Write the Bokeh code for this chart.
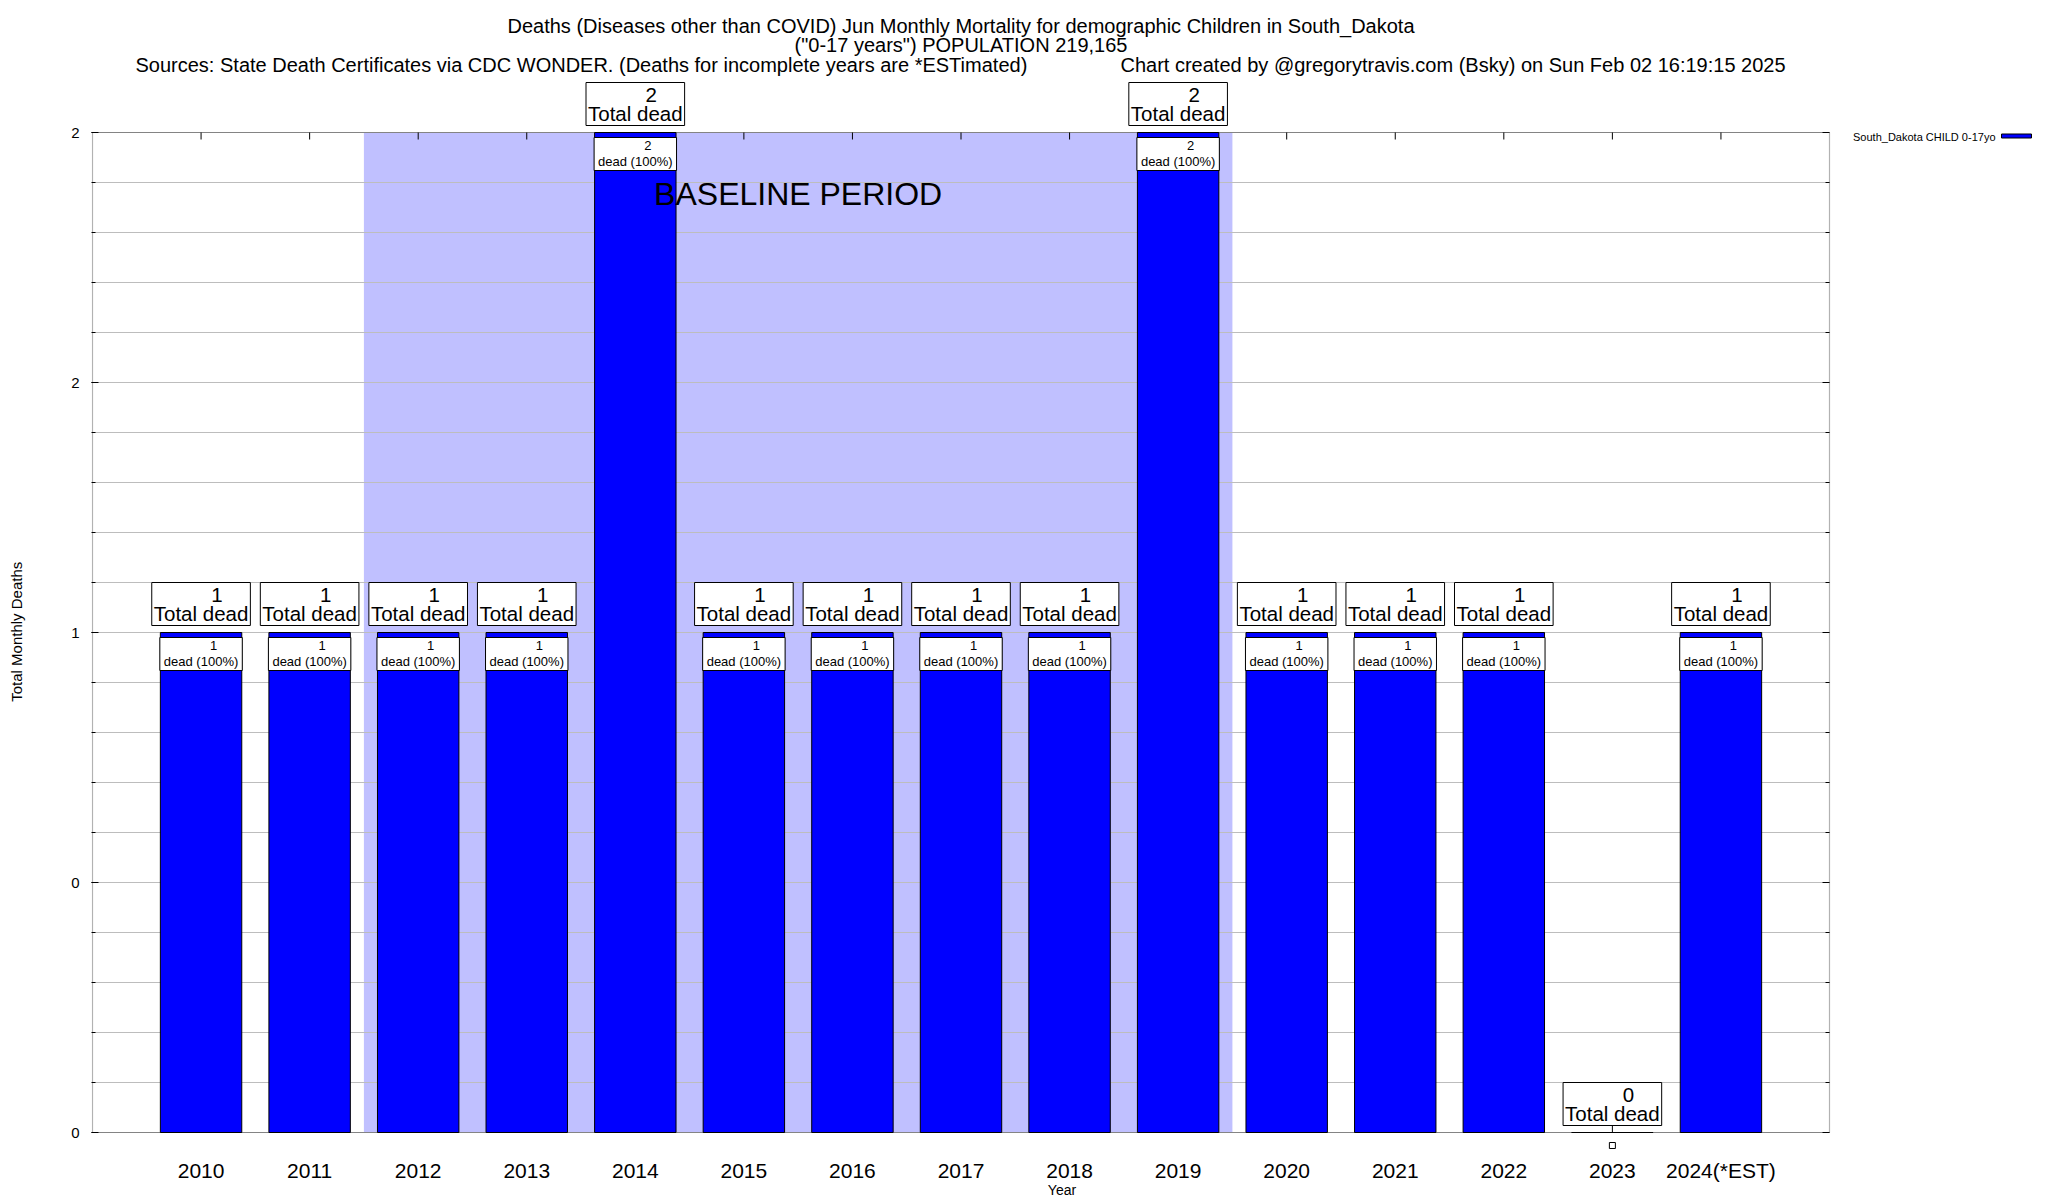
import math
from bokeh.plotting import figure
from bokeh.models import Range1d, FixedTicker, Label, BoxAnnotation, ColumnDataSource
from bokeh.embed import file_html
from bokeh.resources import INLINE

# ---------------- data ----------------
years = ["2010", "2011", "2012", "2013", "2014", "2015", "2016", "2017",
         "2018", "2019", "2020", "2021", "2022", "2023", "2024(*EST)"]
deaths = [1, 1, 1, 1, 2, 1, 1, 1, 1, 2, 1, 1, 1, 0, 1]
share_pct = [100, 100, 100, 100, 100, 100, 100, 100, 100, 100, 100, 100, 100, 0, 100]
baseline_first, baseline_last = "2012", "2019"
y_tick_values = [0, 0.5, 1, 1.5, 2]
y_tick_labels = ["0", "0", "1", "2", "2"]
series_name = "South_Dakota CHILD 0-17yo"
y_title = "Total Monthly Deaths"
x_title = "Year"
title_1 = "Deaths (Diseases other than COVID) Jun Monthly Mortality for demographic Children in South_Dakota"
title_2 = '("0-17 years") POPULATION 219,165'
title_3a = "Sources: State Death Certificates via CDC WONDER. (Deaths for incomplete years are *ESTimated)"
title_3b = "Chart created by @gregorytravis.com (Bsky) on Sun Feb 02 16:19:15 2025"

FONT = "Liberation Sans"
BLACK = "black"
n = len(years)
idx = list(range(n))
x_lo, x_hi = -1, n            # plot box in data units
y_lo, y_hi = 0, 2
PX_X = 1737 / (x_hi - x_lo)   # px per x unit
PX_Y = 1000 / (y_hi - y_lo)   # px per y unit

# frame extends past the plot box (top & right) so outside texts are not clipped
fr_left, fr_right, fr_top, fr_bottom = 91, 2032, 0, 1150
box_left, box_top, box_bottom = 92, 132, 1132
xr = Range1d(x_lo - (box_left - fr_left) / PX_X, x_lo + (fr_right - box_left) / PX_X)
yr = Range1d(y_lo - (fr_bottom - box_bottom) / PX_Y, y_lo + (box_bottom - fr_top) / PX_Y)

p = figure(frame_width=fr_right - fr_left, frame_height=fr_bottom - fr_top,
           x_range=xr, y_range=yr, output_backend="svg", toolbar_location=None,
           min_border_left=fr_left, min_border_right=0, min_border_top=0,
           min_border_bottom=42)
p.background_fill_color = "white"
p.border_fill_color = "white"
p.outline_line_color = None

# baseline shading
b0 = years.index(baseline_first) - 0.5
b1 = years.index(baseline_last) + 0.5
p.add_layout(BoxAnnotation(left=b0, right=b1, bottom=y_lo, top=y_hi, fill_color="#c0c0ff",
                           fill_alpha=1.0, line_color=None, level="image"))

# horizontal grid, limited to the plot box
grid_ticks = [round(i * 0.1, 1) for i in range(21)]
p.xgrid.visible = False
p.ygrid.visible = False
p.segment(x0=[x_lo] * len(grid_ticks), x1=[x_hi] * len(grid_ticks), y0=grid_ticks,
          y1=grid_ticks, line_color="#bdbdbd", line_width=1, level="underlay")

# mirror / inward ticks
minor_only = [t for t in grid_ticks if t not in y_tick_values]
p.ray(x=idx, y=[y_lo] * n, length=7, length_units="screen", angle=math.pi / 2,
      line_color=BLACK, line_width=1, level="underlay")
p.ray(x=idx, y=[y_hi] * n, length=7, length_units="screen", angle=-math.pi / 2,
      line_color=BLACK, line_width=1, level="underlay")
p.ray(x=[x_hi] * len(y_tick_values), y=y_tick_values, length=7, length_units="screen",
      angle=math.pi, line_color=BLACK, line_width=1, level="underlay")
p.ray(x=[x_hi] * len(minor_only), y=minor_only, length=4, length_units="screen",
      angle=math.pi, line_color=BLACK, line_width=1, level="underlay")

# bars
src = ColumnDataSource(dict(x=idx, top=deaths, year=years))
p.vbar(x="x", top="top", width=0.75, source=src, fill_color="#0000ff",
       line_color=BLACK, line_width=1)

# plot box border
p.add_layout(BoxAnnotation(left=x_lo, right=x_hi, bottom=y_lo, top=y_hi, fill_alpha=0,
                           fill_color=None, line_color=BLACK, line_width=1.2))

# axes
ax = p.xaxis[0]
ax.bounds = (x_lo, x_hi)
ax.ticker = FixedTicker(ticks=idx)
ax.major_label_overrides = {i: y for i, y in zip(idx, years)}
ax.major_tick_line_color = None
ax.minor_tick_line_color = None
ax.axis_line_color = None
ax.major_label_text_font = FONT
ax.major_label_text_font_size = "21px"
ax.major_label_text_color = BLACK
ax.major_label_standoff = 2
ax.axis_label = x_title
ax.axis_label_text_font = FONT
ax.axis_label_text_font_size = "14px"
ax.axis_label_text_font_style = "normal"
ax.axis_label_text_color = BLACK
ax.axis_label_standoff = -3

ay = p.yaxis[0]
ay.bounds = (y_lo, y_hi)
ay.ticker = FixedTicker(ticks=y_tick_values, minor_ticks=grid_ticks)
ay.major_label_overrides = {v: l for v, l in zip(y_tick_values, y_tick_labels)}
ay.major_tick_in = 7
ay.major_tick_out = 0
ay.minor_tick_in = 4
ay.minor_tick_out = 0
ay.axis_line_color = None
ay.major_label_text_font = FONT
ay.major_label_text_font_size = "15px"
ay.major_label_text_color = BLACK
ay.major_label_standoff = 12
# the frame reaches above the plot box; trailing no-break spaces re-centre the
# title on the plot box itself
ay.axis_label = y_title + "\u00a0" * 27
ay.axis_label_text_font = FONT
ay.axis_label_text_font_size = "15px"
ay.axis_label_text_font_style = "normal"
ay.axis_label_text_color = BLACK
ay.axis_label_standoff = 43

# value labels: a boxed "Total dead" above each bar, a boxed share inside each bar
zero_x, zero_y = [], []
for i, (v, pc) in enumerate(zip(deaths, share_pct)):
    p.add_layout(Label(x=i, y=v, y_offset=7, text="Total dead",
                       text_align="center", text_baseline="bottom", text_color=BLACK,
                       text_font=FONT, text_font_size="20.5px",
                       background_fill_color="white", border_line_color=BLACK,
                       border_line_width=1,
                       padding=dict(top=19, bottom=1, left=2, right=2)))
    p.add_layout(Label(x=i, y=v, x_offset=16, y_offset=38, text="%d" % v,
                       text_align="center", text_baseline="middle", text_color=BLACK,
                       text_font=FONT, text_font_size="20.5px"))
    if v > 0:
        p.add_layout(Label(x=i, y=v, y_offset=-5, text="dead (%d%%)" % pc,
                           text_align="center", text_baseline="top", text_color=BLACK,
                           text_font=FONT, text_font_size="13px",
                           background_fill_color="white", border_line_color=BLACK,
                           border_line_width=1,
                           padding=dict(top=16, bottom=2, left=4, right=4)))
        p.add_layout(Label(x=i, y=v, x_offset=12.5, y_offset=-12.5, text="%d" % v,
                           text_align="center", text_baseline="middle", text_color=BLACK,
                           text_font=FONT, text_font_size="13px"))
    else:
        zero_x.append(i)
        zero_y.append(v - 13 / PX_Y)
p.scatter(x=zero_x, y=zero_y, marker="square", size=6, fill_color="white",
          line_color=BLACK, line_width=1)

# baseline caption
p.add_layout(Label(x=(b0 + b1) / 2, y=y_hi, y_offset=-61, text="BASELINE PERIOD",
                   text_align="center", text_baseline="middle", text_color=BLACK,
                   text_font=FONT, text_font_size="32px"))

# titles
mid = (x_lo + x_hi) / 2
for txt, xo, yo, al, xx in [(title_1, 0, 107, "center", mid),
                            (title_2, 0, 88, "center", mid),
                            (title_3a, 43, 68, "left", x_lo),
                            (title_3b, 1028, 68, "left", x_lo)]:
    p.add_layout(Label(x=xx, y=y_hi, x_offset=xo, y_offset=yo, text=txt, text_align=al,
                       text_baseline="middle", text_font=FONT, text_font_size="20px",
                       text_color=BLACK))

# legend (outside the plot box, right)
p.add_layout(Label(x=x_hi, y=y_hi, x_offset=166, y_offset=-4, text=series_name,
                   text_align="right", text_baseline="middle", text_font=FONT,
                   text_font_size="11px", text_color=BLACK))
p.rect(x=[x_hi + 187 / PX_X], y=[y_hi - 3.5 / PX_Y], width=30, height=4,
       width_units="screen", height_units="screen", fill_color="#0000ff",
       line_color=BLACK, line_width=1)

open("out.html", "w").write(file_html(p, INLINE))
